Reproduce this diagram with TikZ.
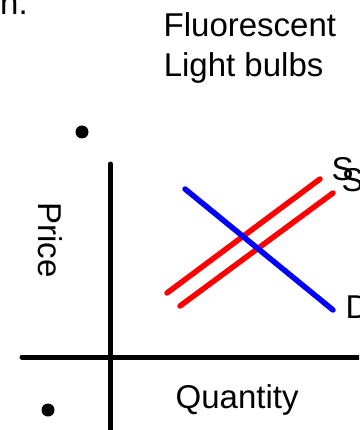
\documentclass[tikz,border=0pt]{standalone}
\usepackage{fontspec}
\setmainfont{Liberation Sans}
\begin{document}
\begin{tikzpicture}[x=1pt,y=-1pt,
  lbl/.style={inner sep=0pt,anchor=base west,font=\fontsize{33}{40}\selectfont},
  axis/.style={line width=5pt,line cap=round,black},
  supply/.style={line width=5.5pt,line cap=round,red},
  demand/.style={line width=5.5pt,line cap=round,blue},
  dotmark/.style={circle,fill=black,inner sep=0pt,minimum size=13pt}]
\useasboundingbox (0,0) rectangle (359,430);
\begin{scope}
\clip (0,0) rectangle (359,430);
% texts
\node[lbl] (n) at (0,15) {n.};
\node[lbl] (t1) at (163.5,37) {Fluorescent};
\node[lbl] (t2) at (163.6,77) {Light bulbs};
\node[lbl] (q) at (175.5,408) {Quantity};
\node[inner sep=0pt,rotate=-90,font=\fontsize{33}{40}\selectfont] (p) at (50,240) {Price};
\node[lbl] (s1) at (331.5,181) {S};
\node[lbl] (s2) at (341.5,192) {S};
\node[lbl] (d) at (345.5,318) {D};
% dots
\node[dotmark] (dot1) at (82,132) {};
\node[dotmark] (dot2) at (48,410) {};
% axes
\coordinate (vtop) at (110.5,164);
\coordinate (vbot) at (110.5,430);
\coordinate (hl) at (22,357);
\coordinate (hr) at (365,357);
\draw[axis] (vtop) -- (vbot);
\draw[axis] (hl) -- (hr);
% curves
\coordinate (d1) at (185,189);
\coordinate (d2) at (333,310);
\coordinate (sa1) at (167,293);
\coordinate (sa2) at (320,179);
\coordinate (sb1) at (180,306);
\coordinate (sb2) at (333,193);
\draw[supply] (sa1) -- (sa2);
\draw[supply] (sb1) -- (sb2);
\draw[demand] (d1) -- (d2);
\end{scope}
\end{tikzpicture}
\end{document}
